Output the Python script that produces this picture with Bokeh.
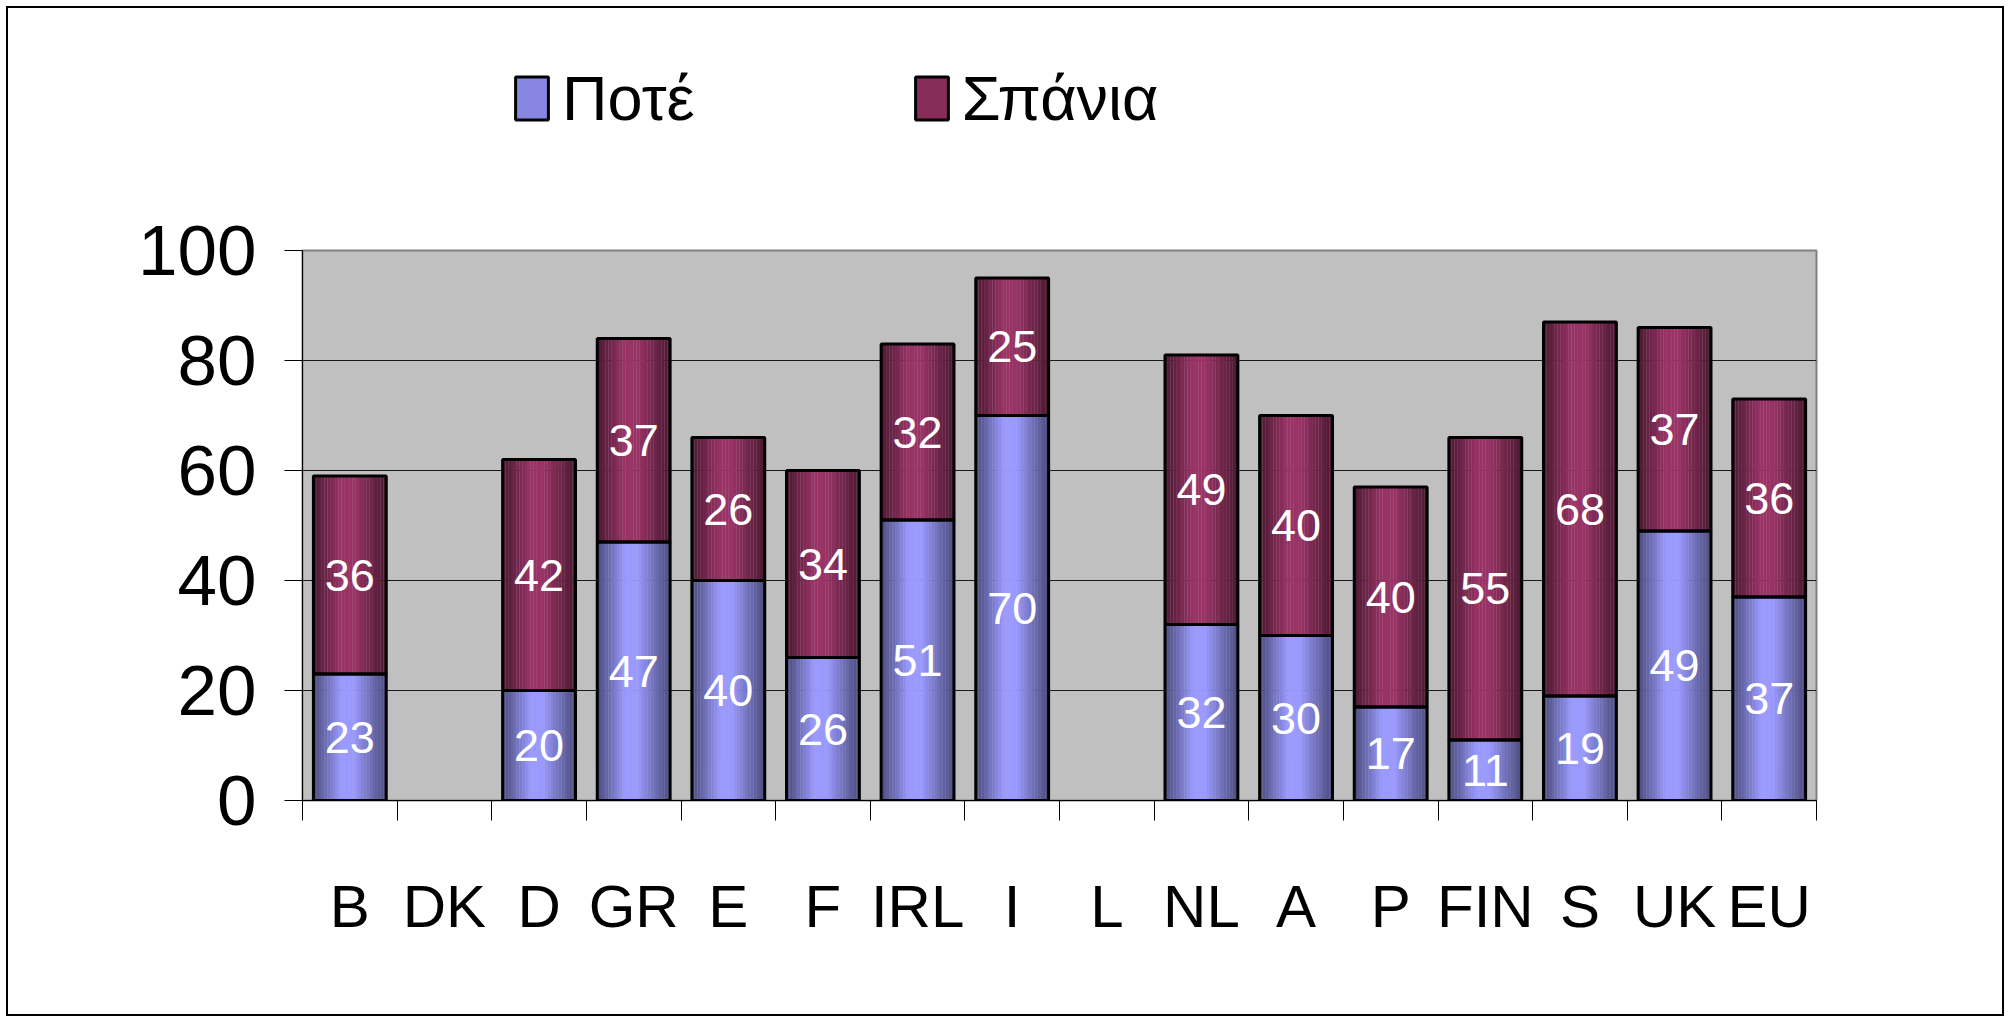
import math
from bokeh.plotting import figure
from bokeh.layouts import column
from bokeh.models import (Range1d, FixedTicker, Legend, LegendItem,
                          ColumnDataSource)
from bokeh.transform import dodge
from bokeh.embed import file_html
from bokeh.resources import INLINE
from bokeh.core.properties import value

# ---------------- data ----------------
categories = ["B", "DK", "D", "GR", "E", "F", "IRL", "I", "L",
              "NL", "A", "P", "FIN", "S", "UK", "EU"]
pote = [23, None, 20, 47, 40, 26, 51, 70, None, 32, 30, 17, 11, 19, 49, 37]
spania = [36, None, 42, 37, 26, 34, 32, 25, None, 49, 40, 40, 55, 68, 37, 36]
series_names = ["Ποτέ", "Σπάνια"]
y_ticks = [0, 20, 40, 60, 80, 100]

# ---------------- style ----------------
FONT = "'Liberation Sans Narrow', 'Liberation Sans', Arial, sans-serif"
BAR_W = 0.77
N_STRIPS = 26
BASES = [(153, 153, 255), (153, 51, 102)]


def shade(base, t):
    # cylinder-like profile: dark edges, light plateau around the centre
    if t < 0.38:
        s = t / 0.38
    elif t < 0.56:
        s = 1.0
    else:
        s = (1 - t) / 0.44
    s = max(0.0, min(1.0, s))
    f = 0.5 + 0.5 * (s ** 1.1)
    r, g, b = (int(round(c * f)) for c in base)
    return "#%02x%02x%02x" % (r, g, b)


# ---------------- build ----------------
xs, p_bot, p_top, s_bot, s_top, pv, sv = [], [], [], [], [], [], []
for i, c in enumerate(categories):
    if pote[i] is None:
        continue
    xs.append(i + 0.5)
    p_bot.append(0)
    p_top.append(pote[i])
    s_bot.append(pote[i])
    s_top.append(pote[i] + spania[i])
    pv.append(str(pote[i]))
    sv.append(str(spania[i]))

src = ColumnDataSource(dict(
    x=xs, p_bot=p_bot, p_top=p_top, s_bot=s_bot, s_top=s_top,
    p_mid=[(a + b) / 2 for a, b in zip(p_bot, p_top)],
    s_mid=[(a + b) / 2 for a, b in zip(s_bot, s_top)],
    pv=pv, sv=sv,
))

W = 1994
H_TOP = 150
H = 1006 - H_TOP
FRAME_L = 294

# ---- legend strip (top) ----
lg = figure(width=W, height=H_TOP, output_backend="svg", toolbar_location=None,
            x_range=Range1d(0, 1), y_range=Range1d(0, 1),
            x_axis_location=None, y_axis_location=None,
            min_border=0, min_border_left=0, min_border_right=0,
            min_border_top=0, min_border_bottom=0)
lg.outline_line_color = None
lg.grid.grid_line_color = None
lg.background_fill_color = "white"
lg.border_fill_color = "white"

nan = float("nan")
dummy = ColumnDataSource(dict(x=[nan], top=[nan]))
leg_items = []
for si, name in enumerate(series_names):
    mid = shade(BASES[si], 0.3)
    r1 = lg.vbar(x="x", top="top", width=0.1, source=dummy,
                 fill_color=mid, line_color="black", line_width=3)
    leg_items.append(LegendItem(label=name, renderers=[r1]))

legend = Legend(items=leg_items, orientation="horizontal",
                location=(511 - 8 - FRAME_L, 24))
legend.glyph_width = 41
legend.glyph_height = 54
legend.label_standoff = 10
legend.label_height = 54
legend.label_text_font = FONT
legend.label_text_font_size = "63px"
legend.label_text_color = "black"
legend.spacing = 216
legend.padding = 0
legend.margin = 0
legend.border_line_color = None
legend.background_fill_alpha = 0
lg.add_layout(legend)

# ---- chart ----
p = figure(width=W, height=H, output_backend="svg", toolbar_location=None,
           x_range=Range1d(0, len(categories)), y_range=Range1d(0, 100),
           min_border_left=FRAME_L, min_border_right=W - 1808,
           min_border_top=242 - H_TOP, min_border_bottom=H - (792 - H_TOP))
p.background_fill_color = "#c0c0c0"
p.border_fill_color = "white"
p.outline_line_color = "#808080"
p.outline_line_width = 2

# grid
p.xgrid.grid_line_color = None
p.ygrid.ticker = FixedTicker(ticks=y_ticks)
p.ygrid.grid_line_color = "#1a1a1a"
p.ygrid.grid_line_width = 1

# y axis
p.yaxis.ticker = FixedTicker(ticks=y_ticks)
p.yaxis.major_label_text_font = FONT
p.yaxis.major_label_text_font_size = "71px"
p.yaxis.major_label_text_color = "black"
p.yaxis.major_tick_out = 18
p.yaxis.major_tick_in = 0
p.yaxis.minor_tick_line_color = None
p.yaxis.major_label_standoff = 28
p.yaxis.axis_line_color = "black"
p.yaxis.major_tick_line_color = "black"

# x axis: labels at centers, ticks at boundaries (minor)
centers = [i + 0.5 for i in range(len(categories))]
bounds = [i for i in range(len(categories) + 1)]
p.xaxis.ticker = FixedTicker(ticks=centers, minor_ticks=bounds)
p.xaxis.major_label_overrides = {c: categories[i] for i, c in enumerate(centers)}
p.xaxis.major_tick_out = 0
p.xaxis.major_tick_in = 0
p.xaxis.major_tick_line_color = None
p.xaxis.minor_tick_out = 20
p.xaxis.minor_tick_in = 0
p.xaxis.minor_tick_line_color = "black"
p.xaxis.axis_line_color = "black"
p.xaxis.major_label_text_font = FONT
p.xaxis.major_label_text_font_size = "60px"
p.xaxis.major_label_text_color = "black"
p.xaxis.major_label_standoff = 52

# bars with cylinder shading (vertical strips)
strip_w = BAR_W / N_STRIPS
for si, (bot, top) in enumerate([("p_bot", "p_top"), ("s_bot", "s_top")]):
    for k in range(N_STRIPS):
        t = (k + 0.5) / N_STRIPS
        off = -BAR_W / 2 + (k + 0.5) * strip_w
        p.vbar(x=dodge("x", off), width=strip_w * 1.06, bottom=bot, top=top,
               source=src, fill_color=shade(BASES[si], t), line_color=None)

for bot, top in [("p_bot", "p_top"), ("s_bot", "s_top")]:
    p.vbar(x="x", width=BAR_W, bottom=bot, top=top, source=src,
           fill_color=None, line_color="black", line_width=3)

# value labels
for mid, txt in [("p_mid", "pv"), ("s_mid", "sv")]:
    p.text(x="x", y=mid, text=txt, source=src, text_color="white",
           text_font=value(FONT), text_font_size="45px",
           text_align="center", text_baseline="middle")

layout = column(lg, p, spacing=0)
layout.styles = {"border": "2px solid black", "margin-left": "6px", "margin-top": "6px"}

open("out.html", "w").write(file_html(layout, INLINE))
